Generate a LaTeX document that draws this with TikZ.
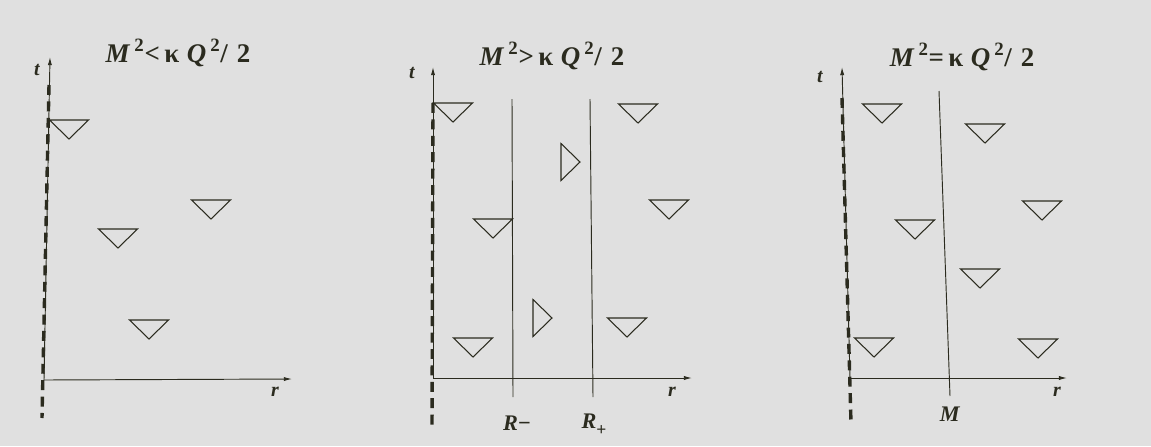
\documentclass[tikz,border=0pt]{standalone}
\usepackage{fontspec}
\setmainfont{Liberation Serif}
\usetikzlibrary{arrows.meta}
\definecolor{bgGray}{HTML}{E0E0E0}
\definecolor{inkDark}{HTML}{2B2B1F}
\newcommand{\sq}{\hspace{0.15em}\textsuperscript{2}}

\begin{document}
\begin{tikzpicture}[x=0.03cm, y=-0.03cm, color=inkDark,
      >={Latex[length=7pt,width=3.6pt]},
      axis/.style={->, line width=0.8pt},
      wall/.style={line width=2.9pt, dash pattern=on 8.5pt off 5.5pt},
      horizon/.style={line width=0.8pt},
      lbl/.style={font=\fontsize{17}{19}\selectfont\bfseries\itshape},
      bnd/.style={font=\fontsize{19}{21}\selectfont\bfseries},
      ttl/.style={anchor=base, font=\fontsize{23}{26}\selectfont\bfseries},
      pics/cone/.style={code={\draw[line width=0.9pt] (-19.5,0) -- (19.5,0) -- (0,19) -- cycle;}},
      pics/rcone/.style={code={\draw[line width=0.9pt] (0,-18.5) -- (0,18.5) -- (19,0) -- cycle;}}]
    \fill[bgGray] (0,0) rectangle (1151,446);
    \useasboundingbox (0,0) rectangle (1151,446);

    % left panel
    \node[ttl] (title1) at (178,62) {\textit{M}\sq<\,κ\;\textit{Q}\sq/\,\,2};
    \coordinate (o1) at (44,380);
    \coordinate (top1) at (50,57);
    \coordinate (end1) at (292,379);
    \coordinate (wt1) at (49,85);
    \coordinate (wb1) at (42,418);
    \draw[axis] (o1) -- (top1);
    \draw[axis] (o1) -- (end1);
    \draw[wall] (wt1) -- (wb1);
    \node[lbl] (t1) at (37,70) {t};
    \node[lbl] (r1) at (275,392) {r};
    \pic at (69,120) {cone};
    \pic at (211,200) {cone};
    \pic at (118,229) {cone};
    \pic at (149,320) {cone};

    % middle panel
    \node[ttl] (title2) at (552,65) {\textit{M}\sq>\,κ\;\textit{Q}\sq/\,\,2};
    \coordinate (o2) at (433,378);
    \coordinate (top2) at (433,67);
    \coordinate (end2) at (692,378);
    \coordinate (wt2) at (433,103);
    \coordinate (wb2) at (432,430);
    \coordinate (hmt) at (512,99);
    \coordinate (hmb) at (513,397);
    \coordinate (hpt) at (590,99);
    \coordinate (hpb) at (593,397);
    \draw[axis] (o2) -- (top2);
    \draw[axis] (o2) -- (end2);
    \draw[wall] (wt2) -- (wb2);
    \draw[horizon] (hmt) -- (hmb);
    \draw[horizon] (hpt) -- (hpb);
    \node[lbl] (t2) at (412,73) {t};
    \node[lbl] (r2) at (672,392) {r};
    \node[bnd] (rminus) at (517,423) {\textit{R}−};
    \node[bnd] (rplus) at (594,425) {\textit{R}\raisebox{-0.3em}{\fontsize{15}{15}\selectfont +}};
    \pic at (453,103) {cone};
    \pic at (638,104) {cone};
    \pic at (669,200) {cone};
    \pic at (493,219) {cone};
    \pic at (627,318) {cone};
    \pic at (473,338) {cone};
    \pic at (561,162) {rcone};
    \pic at (533,318) {rcone};

    % right panel
    \node[ttl] (title3) at (962,66) {\textit{M}\sq=\,κ\;\textit{Q}\sq/\,\,2};
    \coordinate (o3) at (850,378);
    \coordinate (top3) at (842,67);
    \coordinate (end3) at (1067,378);
    \coordinate (wt3) at (842,98);
    \coordinate (wb3) at (851,423);
    \coordinate (hot) at (939,91);
    \coordinate (hob) at (950,396);
    \draw[axis] (o3) -- (top3);
    \draw[axis] (o3) -- (end3);
    \draw[wall] (wt3) -- (wb3);
    \draw[horizon] (hot) -- (hob);
    \node[lbl] (t3) at (820,77) {t};
    \node[lbl] (r3) at (1057,392) {r};
    \node[bnd] (mass) at (950,414) {\textit{M}};
    \pic at (882,104) {cone};
    \pic at (985,124) {cone};
    \pic at (1042,201) {cone};
    \pic at (915,220) {cone};
    \pic at (980,269) {cone};
    \pic at (874,338) {cone};
    \pic at (1038,339) {cone};
  \end{tikzpicture}
\end{document}
